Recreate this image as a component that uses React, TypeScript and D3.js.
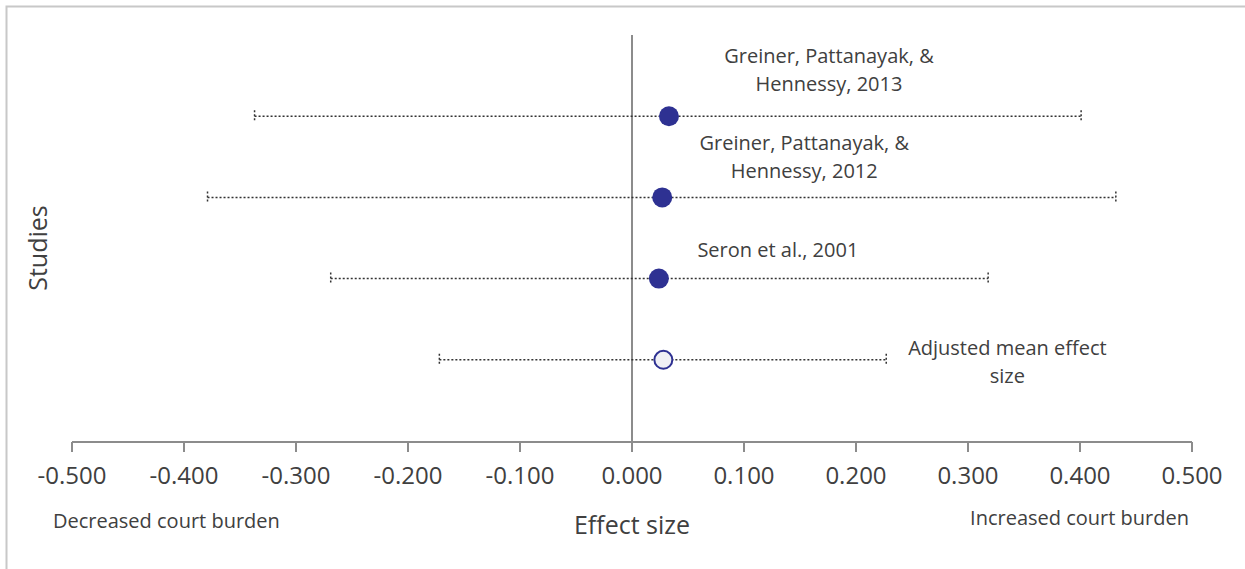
import React from "react";
import * as d3 from "d3";

const studies = ["Greiner, Pattanayak, & Hennessy, 2013", "Greiner, Pattanayak, & Hennessy, 2012", "Seron et al., 2001", "Adjusted mean effect size"];
const labelLines = [["Greiner, Pattanayak, &", "Hennessy, 2013"], ["Greiner, Pattanayak, &", "Hennessy, 2012"], ["Seron et al., 2001"], ["Adjusted mean effect", "size"]];
const effect = [0.033, 0.027, 0.024, 0.028];
const lower = [-0.337, -0.379, -0.269, -0.172];
const upper = [0.401, 0.432, 0.318, 0.227];
const rowPos = [4, 3, 2, 1];
const isSummary = [false, false, false, true];
const xTicks = [-0.5, -0.4, -0.3, -0.2, -0.1, 0, 0.1, 0.2, 0.3, 0.4, 0.5];

// label placement (layout, in pixels relative to the marker)
const labelOffset = [
  { dx: 160, dy: -60 },
  { dx: 142, dy: -54 },
  { dx: 119, dy: -29 },
  { dx: 344, dy: -12 },
];

const W = 1245, H = 569;
const M = { left: 72, right: 1192, top: 35, bottom: 441 };
const FONT = "'Open Sans', 'Noto Sans', sans-serif";
const TEXT = "#404040";
const BLUE = "#2E3192";

export default function App() {
  const x = d3.scaleLinear().domain([-0.5, 0.5]).range([M.left, M.right]);
  const y = d3.scaleLinear().domain([0, 5]).range([M.bottom, M.top]);
  const fmt = (v: number) => d3.format(".3f")(v).replace("\u2212", "-");
  const bar = { stroke: "#333", strokeWidth: 1.5, strokeDasharray: "2,2" };
  return (
    <svg width={W} height={H} style={{ position: "absolute", left: 0, top: 0 }} fontFamily={FONT}>
      <rect x={0} y={0} width={W} height={H} fill="#fff" />
      <path d={`M6.5,${H} V6.5 H${W}`} fill="none" stroke="#c8c8c8" strokeWidth={2} />
      {/* zero line */}
      <line x1={x(0)} x2={x(0)} y1={M.top} y2={M.bottom} stroke="#8c8c8c" strokeWidth={2} />
      {/* x axis */}
      <line x1={M.left} x2={M.right} y1={M.bottom + 1} y2={M.bottom + 1} stroke="#8c8c8c" strokeWidth={2} />
      {xTicks.map((t) => (
        <g key={t}>
          <line x1={x(t)} x2={x(t)} y1={M.bottom + 1} y2={M.bottom + 11} stroke="#8c8c8c" strokeWidth={2} />
          <text x={x(t)} y={M.bottom + 43} textAnchor="middle" fontSize={24} fill={TEXT}>
            {fmt(t)}
          </text>
        </g>
      ))}
      {/* error bars */}
      {studies.map((s, i) => {
        const yy = y(rowPos[i]);
        return (
          <g key={s}>
            <line x1={x(lower[i])} x2={x(upper[i])} y1={yy} y2={yy} {...bar} />
            <line x1={x(lower[i])} x2={x(lower[i])} y1={yy - 6} y2={yy + 6} {...bar} />
            <line x1={x(upper[i])} x2={x(upper[i])} y1={yy - 6} y2={yy + 6} {...bar} />
          </g>
        );
      })}
      {/* markers */}
      {studies.map((s, i) => (
        <circle key={s} cx={x(effect[i])} cy={y(rowPos[i])} r={isSummary[i] ? 9 : 10}
          fill={isSummary[i] ? "#f0f0f5" : BLUE} stroke={BLUE} strokeWidth={isSummary[i] ? 2 : 0} />
      ))}
      {/* labels */}
      {studies.map((s, i) => {
        const cx = x(effect[i]) + labelOffset[i].dx;
        const cy = y(rowPos[i]) + labelOffset[i].dy;
        return (
          <text key={s} textAnchor="middle" fontSize={20} fill={TEXT}>
            {labelLines[i].map((ln, j) => (
              <tspan key={j} x={cx} y={cy + j * 28 + 7}>{ln}</tspan>
            ))}
          </text>
        );
      })}
      <text x={37} y={248} transform="rotate(-90,37,248)" textAnchor="middle" dominantBaseline="central" fontSize={25} fill={TEXT}>Studies</text>
      <text x={x(0)} y={534} textAnchor="middle" fontSize={25} fill={TEXT}>Effect size</text>
      <text x={53} y={528} fontSize={20} fill={TEXT}>Decreased court burden</text>
      <text x={1189} y={525} textAnchor="end" fontSize={20} fill={TEXT}>Increased court burden</text>
    </svg>
  );
}
